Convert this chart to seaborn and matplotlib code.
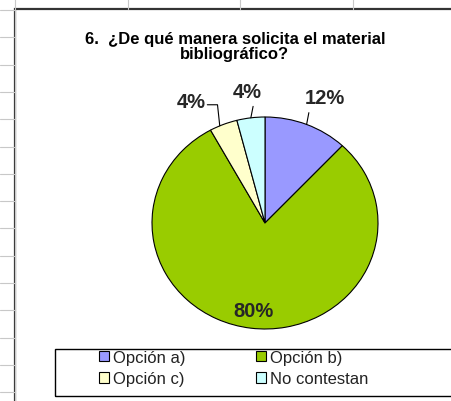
import numpy as np
import matplotlib
matplotlib.use("Agg")
import matplotlib.pyplot as plt
from matplotlib.patches import Rectangle, Patch
from matplotlib.lines import Line2D
import seaborn as sns

sns.set_theme(style="white")
plt.rcParams['font.family'] = ['Liberation Sans', 'DejaVu Sans']

# ---- data ----
categories = ["Opción a)", "Opción b)", "Opción c)", "No contestan"]
values = [12, 80, 4, 4]
labels = ["12%", "80%", "4%", "4%"]
colors = ["#9999FF", "#99CC00", "#FFFFCC", "#CCFFFF"]
title = "6.  ¿De qué manera solicita el material\nbibliográfico?"

W, H = 452, 402
fig = plt.figure(figsize=(W / 100, H / 100), dpi=100)
fig.patch.set_facecolor("white")

def fx(px):
    return px / W

def fy(py):
    return 1 - py / H

# spreadsheet grid remnants
for i in range(15):
    y = 11 + 27.3 * i
    fig.add_artist(Line2D([0, fx(15)], [fy(y), fy(y)], color="#c8c8c8", lw=0.8))
for x in [128, 240, 353]:
    fig.add_artist(Line2D([fx(x), fx(x)], [1, fy(10)], color="#c8c8c8", lw=0.8))
fig.add_artist(Line2D([fx(15), fx(15)], [1, 0], color="#c8c8c8", lw=0.8))

# chart area frame
fig.add_artist(Rectangle((fx(15), fy(402 + 20)), fx(452), fy(10) - fy(422),
                         fill=False, edgecolor="#333333", lw=1.6))

# title
fig.text(fx(235), fy(47), title, ha="center", va="center", fontsize=12,
         fontweight="bold", linespacing=1.05, color="black")

# pie
cx, cy, rx, ry = 265, 224, 113, 106
ax = fig.add_axes([fx(cx - rx), fy(cy + ry), 2 * rx / W, 2 * ry / H])
wedges, _ = ax.pie(values, colors=colors, startangle=90, counterclock=False,
                   wedgeprops=dict(edgecolor="black", linewidth=0.8))
ax.set_aspect("auto")
ax.set_xlim(-1, 1)
ax.set_ylim(-1, 1)
ax.axis("off")

# label placement (layout only)
label_r = [1.27, 0.83, 1.25, 1.25]
label_dx = [0.06, 0.0, -0.15, 0.0]
edge_shift = [0.0, 0.0, 2.0, 0.0]
for k, w in enumerate(wedges):
    mid = np.deg2rad((w.theta1 + w.theta2) / 2 + edge_shift[k])
    tx = label_r[k] * np.cos(mid) + label_dx[k]
    ty = label_r[k] * np.sin(mid)
    if k == 1:
        ax.text(tx, ty, labels[k], ha="center", va="center", fontsize=14.5,
                fontweight="bold")
        continue
    ex, ey = np.cos(mid), np.sin(mid)
    ax.text(tx, ty, labels[k], ha="center", va="center", fontsize=14.5,
            fontweight="bold", clip_on=False)
    if k == 2:
        ax.plot([ex, ex - 0.02, tx + 0.14], [ey, ty - 0.03, ty - 0.03],
                color="black", lw=0.8, clip_on=False)
    else:
        ax.plot([ex, ex + 0.02], [ey, ty - 0.14], color="black", lw=0.8,
                clip_on=False)

# legend box
fig.add_artist(Rectangle((fx(55), fy(397)), fx(460) - fx(55), fy(350) - fy(397),
                         fill=False, edgecolor="black", lw=1.0))
handles = [Patch(facecolor=c, edgecolor="black", linewidth=0.8) for c in colors]
order = [0, 2, 1, 3]  # row-major fill for two columns
fig.legend([handles[i] for i in order], [categories[i] for i in order],
           loc="center left",
           bbox_to_anchor=(fx(99), fy(369)), ncol=2, frameon=False,
           fontsize=12, handlelength=0.6, handleheight=0.6, handletextpad=0.25,
           columnspacing=4.2, labelspacing=0.4, borderaxespad=0, borderpad=0)
for t in fig.legends[0].get_texts():
    t.set_color("#222222")

fig.savefig("out.png", dpi=100, facecolor="white")
